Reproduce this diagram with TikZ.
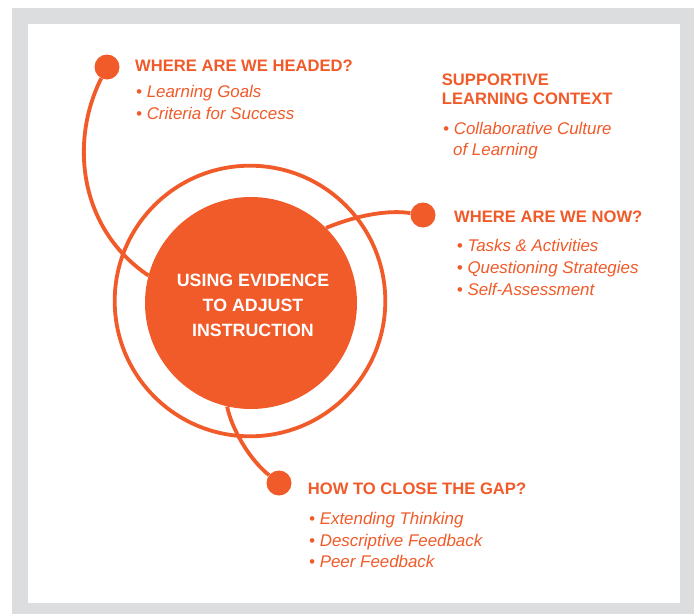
\documentclass[tikz,border=0pt]{standalone}
\usepackage{fontspec}
\setmainfont{Liberation Sans}
\definecolor{evorange}{HTML}{F15A29}
\definecolor{framegray}{HTML}{DCDDDE}
\tikzset{
	head/.style={anchor=base west, inner sep=0pt, text=evorange, font=\fontsize{16.6}{18}\selectfont\bfseries},
	item/.style={anchor=base west, inner sep=0pt, text=evorange, font=\fontsize{16.9}{20}\selectfont\itshape},
	coretext/.style={anchor=base, inner sep=0pt, text=white, font=\fontsize{17.8}{20}\selectfont\bfseries},
	knob/.style={circle, fill=evorange, minimum size=25pt, inner sep=0pt},
	thread/.style={draw=evorange, line width=3.8pt}
}

\begin{document}
\begin{tikzpicture}[x=1pt, y=-1pt]
		%%%%% FRAME %%%%%
		\useasboundingbox (0, 0) rectangle (694, 614);
		\fill[framegray] (12, 8) rectangle (694, 614);
		\fill[white] (28, 24) rectangle (680, 603);
		
		%%%%% RINGS %%%%%
		\node[circle, draw=evorange, line width=3.8pt, minimum size=270.6pt, inner sep=0pt] (ring) at (250, 301) {};
		\node[circle, fill=evorange, minimum size=212pt, inner sep=0pt] (core) at (251, 303) {};
		
		\node[knob] (headed) at (107, 67) {};
		\node[knob] (now) at (423, 215) {};
		\node[knob] (gap) at (279, 483) {};
		
		\draw[thread] (headed) .. controls (70, 140) and (78, 228) .. (core.165);
		\draw[thread] (core.45) .. controls (360, 214) and (390, 210) .. (now);
		\draw[thread] (core.257) .. controls (232, 430) and (250, 460) .. (gap);
		
		\node[coretext] (core1) at (253, 286) {USING EVIDENCE};
		\node[coretext] (core2) at (253, 311) {TO ADJUST};
		\node[coretext] (core3) at (253, 336.7) {INSTRUCTION};
		
		%%%%% WHERE ARE WE HEADED %%%%%
		\node[head] (headedtitle) at (135, 71) {WHERE ARE WE HEADED?};
		\node[item] (goals) at (136, 97) {• Learning Goals};
		\node[item] (criteria) at (136, 119) {• Criteria for Success};
		
		%%%%% SUPPORTIVE CONTEXT %%%%%
		\node[head] (context1) at (441.7, 85.7) {SUPPORTIVE};
		\node[head] (context2) at (441.7, 104) {LEARNING CONTEXT};
		\node[item] (culture1) at (443, 134) {• Collaborative Culture};
		\node[item] (culture2) at (453, 155) {of Learning};
		
		%%%%% WHERE ARE WE NOW %%%%%
		\node[head] (nowtitle) at (454, 222.7) {WHERE ARE WE NOW?};
		\node[item] (tasks) at (456.7, 251.7) {• Tasks \& Activities};
		\node[item] (questions) at (456.7, 273.3) {• Questioning Strategies};
		\node[item] (selfassess) at (456.7, 295) {• Self-Assessment};
		
		%%%%% HOW TO CLOSE THE GAP %%%%%
		\node[head] (gaptitle) at (307.7, 494) {HOW TO CLOSE THE GAP?};
		\node[item] (extending) at (309, 524.3) {• Extending Thinking};
		\node[item] (descriptive) at (309, 546) {• Descriptive Feedback};
		\node[item] (peer) at (309, 567.7) {• Peer Feedback};
	\end{tikzpicture}
\end{document}
